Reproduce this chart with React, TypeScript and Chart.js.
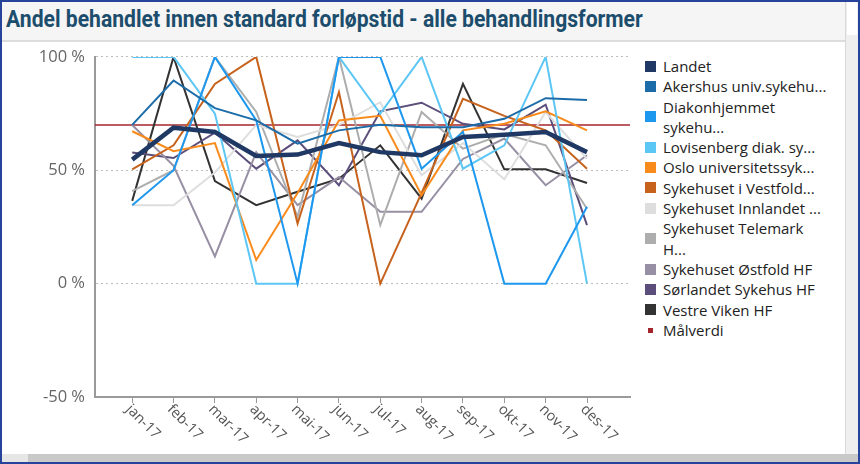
import React, { useEffect, useRef } from "react";
import { Chart, registerables } from "chart.js";

Chart.register(...registerables);

// ---- data ----
const months = ["jan-17", "feb-17", "mar-17", "apr-17", "mai-17", "jun-17", "jul-17", "aug-17", "sep-17", "okt-17", "nov-17", "des-17"];
const yTickValues = [-50, 0, 50, 100];
const targetValue = 70;

const landet = [54.7, 68.8, 66.9, 56.3, 56.9, 62, 58, 56.6, 64.7, 65.7, 66.9, 58];
const akershus = [70, 89.6, 77.4, 72, 61.7, 67.6, 70.1, 69, 69, 72.7, 81.8, 81];
const diakonhjemmet = [34.6, 50, 100, 72, 0, 100, 100, 50.7, 67, 0, 0, 33.9];
const lovisenberg = [100, 100, 75, 0, 0, 100, 75, 100, 50.7, 61, 100, 0];
const oslo = [67.2, 58.4, 62, 10.4, 40, 72, 74, 39, 67.6, 70.5, 76, 67.6];
const vestfold = [50.4, 61, 88.1, 100, 26.5, 84.5, 0, 40, 81.5, 74, 67.6, 50.7];
const innlandet = [34.6, 34.6, 49, 70, 64.7, 70, 80, 47.8, 62, 46, 75.7, 55];
const telemark = [40.8, 50, 100, 75.7, 29.5, 100, 25.8, 75.7, 59.5, 66, 61, 33];
const ostfold = [70, 52, 12, 58, 34.6, 47, 31.7, 31.7, 55, 64, 43.4, 56.6];
const sorlandet = [57.8, 55.4, 66.6, 50.7, 63.2, 43.4, 76, 79.8, 70.5, 68, 78.9, 25.8];
const vestreViken = [36.5, 100, 45.2, 34.6, 40.5, 46.3, 61, 37.5, 88.1, 50.4, 50.4, 44.4];

const seriesValues = [landet, akershus, diakonhjemmet, lovisenberg, oslo, vestfold, innlandet, telemark, ostfold, sorlandet, vestreViken];
const seriesLabels = [
  "Landet",
  "Akershus univ.sykehu...",
  "Diakonhjemmet\nsykehu...",
  "Lovisenberg diak. sy...",
  "Oslo universitetssyk...",
  "Sykehuset i Vestfold...",
  "Sykehuset Innlandet ...",
  "Sykehuset Telemark\nH...",
  "Sykehuset Østfold HF",
  "Sørlandet Sykehus HF",
  "Vestre Viken HF",
];
const targetLabel = "Målverdi";

// ---- styles ----
const seriesColors = ["#1f3864", "#1b6ca8", "#1e98ef", "#5cc6f4", "#f98b1c", "#c7621c", "#dedede", "#adadad", "#978fa3", "#5c4e7b", "#333333"];
const seriesWidths = [4.5, 2, 2, 2, 2, 2, 2, 2, 2, 2, 2];
const targetColor = "#a3262c";

export default function App() {
  const ref = useRef<HTMLCanvasElement>(null);

  useEffect(() => {
    document.body.style.margin = "0";
    const canvas = ref.current;
    if (!canvas) return;

    const targetLine = {
      id: "targetLine",
      beforeDatasetsDraw(chart: any) {
        const { ctx, chartArea, scales } = chart;
        const py = scales.y.getPixelForValue(targetValue);
        ctx.save();
        ctx.strokeStyle = targetColor;
        ctx.lineWidth = 1.5;
        ctx.beginPath();
        ctx.moveTo(chartArea.left, py);
        ctx.lineTo(chartArea.right, py);
        ctx.stroke();
        ctx.restore();
      },
    };

    const xLabels = {
      id: "xLabels",
      afterDraw(chart: any) {
        const { ctx, chartArea, scales } = chart;
        ctx.save();
        ctx.font = '14.5px "Open Sans", sans-serif';
        ctx.fillStyle = "#555555";
        ctx.textAlign = "left";
        ctx.textBaseline = "middle";
        months.forEach((m, i) => {
          const px = scales.x.getPixelForValue(i);
          ctx.save();
          ctx.translate(px - 4, chartArea.bottom + 10);
          ctx.rotate(Math.PI / 4);
          ctx.fillText(m, 0, 0);
          ctx.restore();
        });
        ctx.restore();
      },
    };

    const chart = new Chart(canvas, {
      type: "line",
      data: {
        datasets: seriesValues.map((vals, k) => ({
          label: seriesLabels[k],
          data: vals.map((v, i) => ({ x: i, y: v })),
          borderColor: seriesColors[k],
          backgroundColor: seriesColors[k],
          borderWidth: seriesWidths[k],
          pointRadius: 0,
          tension: 0,
          fill: false,
        })),
      },
      options: {
        animation: false,
        responsive: false,
        layout: { padding: { top: 9, right: 10, left: 0, bottom: 0 } },
        plugins: { legend: { display: false }, tooltip: { enabled: false } },
        scales: {
          x: {
            type: "linear",
            min: -0.9,
            max: 12.04,
            afterBuildTicks: (s: any) => {
              s.ticks = months.map((_, i) => ({ value: i }));
            },
            afterFit: (s: any) => {
              s.height = 58;
            },
            ticks: { display: false },
            grid: { drawOnChartArea: false, drawTicks: true, tickLength: 6, color: "#9a9a9a", lineWidth: 1 },
            border: { display: true, color: "#9a9a9a", width: 2 },
          },
          y: {
            type: "linear",
            min: -50,
            max: 100,
            afterBuildTicks: (s: any) => {
              s.ticks = yTickValues.map((v) => ({ value: v }));
            },
            afterFit: (s: any) => {
              s.width = 95;
            },
            ticks: {
              callback: (v: any) => `${v} %`,
              color: "#666666",
              font: { family: '"Open Sans", sans-serif', size: 16.5 },
              padding: 10,
            },
            grid: { color: "#bdbdbd", lineWidth: 1, drawTicks: false },
            border: { display: true, color: "#9a9a9a", width: 2, dash: [2, 3] },
          },
        },
      },
      plugins: [targetLine, xLabels],
    });

    return () => chart.destroy();
  }, []);

  const legendItems = seriesLabels.map((l, k) => ({ text: l, color: seriesColors[k], small: false }));
  legendItems.push({ text: targetLabel, color: targetColor, small: true });

  return (
    <div
      style={{
        position: "relative",
        width: 860,
        height: 464,
        boxSizing: "border-box",
        border: "2px solid #25449a",
        background: "#ffffff",
        overflow: "hidden",
      }}
    >
      {/* title bar */}
      <div
        style={{
          position: "absolute",
          left: 0,
          top: 0,
          width: 843,
          height: 38,
          background: "#f5f5f5",
          borderBottom: "2px solid #dcdcdc",
        }}
      >
        <div
          style={{
            position: "absolute",
            left: 4,
            top: 4,
            fontFamily: '"Liberation Sans Narrow", "Roboto", sans-serif',
            fontWeight: 700,
            fontSize: 23,
            color: "#1c4d6c",
            whiteSpace: "nowrap",
            transform: "scaleX(0.918)",
            transformOrigin: "left center",
          }}
        >
          Andel behandlet innen standard forløpstid - alle behandlingsformer
        </div>
      </div>
      {/* right strip */}
      <div style={{ position: "absolute", left: 843, top: 0, width: 13, height: 452, background: "#efefef", borderLeft: "1px solid #d8d8d8" }}>
        <div style={{ position: "absolute", left: 1, top: 0, width: 10, height: 33, background: "#ffffff" }} />
      </div>
      {/* bottom bar */}
      <div style={{ position: "absolute", left: 0, top: 452, width: 860, height: 10, background: "#c9c9c9" }}>
        <div style={{ position: "absolute", left: 0, top: 0, width: 26, height: 10, background: "#e6e6e6" }} />
      </div>
      {/* chart */}
      <canvas
        ref={ref}
        width={640}
        height={418}
        style={{ position: "absolute", left: -2, top: 35, width: 640, height: 418 }}
      />
      {/* legend */}
      <div
        style={{
          position: "absolute",
          left: 643,
          top: 54,
          fontFamily: '"Open Sans", sans-serif',
          fontSize: 15,
          lineHeight: "20.3px",
          color: "#222222",
        }}
      >
        {legendItems.map((it, k) => (
          <div key={k} style={{ display: "flex", alignItems: "center" }}>
            <div style={{ width: 11, display: "flex", justifyContent: "center", flexShrink: 0 }}>
              <div
                style={{
                  width: it.small ? 5 : 11,
                  height: it.small ? 5 : 11,
                  background: it.color,
                }}
              />
            </div>
            <div style={{ marginLeft: 7, whiteSpace: "pre" }}>{it.text}</div>
          </div>
        ))}
      </div>
    </div>
  );
}
